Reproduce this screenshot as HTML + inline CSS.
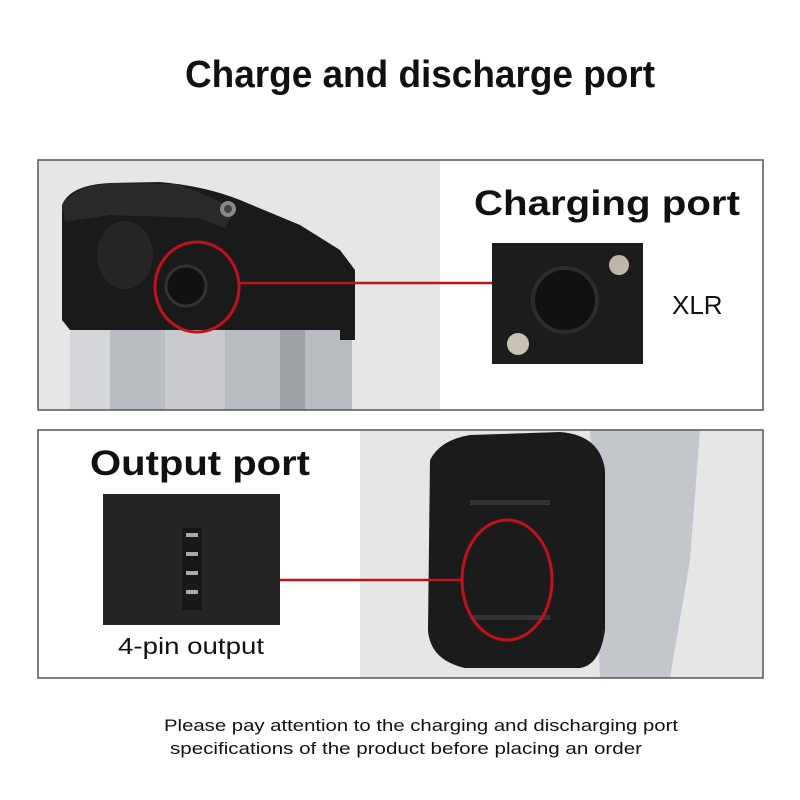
<!DOCTYPE html>
<html><head><style>
body{margin:0;width:800px;height:800px;background:#fff;overflow:hidden;font-family:"Liberation Sans",sans-serif}
svg{display:block}
</style></head><body>
<svg width="800" height="800" viewBox="0 0 800 800" xmlns="http://www.w3.org/2000/svg">
<text x="420" y="87" text-anchor="middle" font-family="Liberation Sans" font-weight="bold" font-size="38" textLength="470" lengthAdjust="spacingAndGlyphs" fill="#111">Charge and discharge port</text>

<!-- top panel -->
<rect x="38" y="160" width="402" height="250" fill="#e6e6e6"/>
<rect x="70" y="315" width="282" height="95" fill="#b9bcc0"/>
<rect x="70" y="315" width="40" height="95" fill="#d4d6d9"/>
<rect x="165" y="315" width="60" height="95" fill="#c8cacd"/>
<rect x="280" y="315" width="25" height="95" fill="#9ea1a5"/>
<path d="M62 225 L62 205 Q70 185 110 183 L160 182 Q205 186 240 200 L300 225 L340 250 L355 270 L355 340 L340 340 L340 330 L70 330 L62 320 Z" fill="#1a1a1a"/>
<path d="M62 205 Q75 185 115 183 L175 184 Q210 195 235 210 L225 228 L200 218 L110 215 L65 222 Z" fill="#2a2a2a"/>
<ellipse cx="125" cy="255" rx="28" ry="34" fill="#262626"/>
<circle cx="228" cy="209" r="8" fill="#888"/>
<circle cx="228" cy="209" r="4" fill="#444"/>
<circle cx="186" cy="286" r="20" fill="#111" stroke="#333" stroke-width="3"/>
<ellipse cx="197" cy="287" rx="42" ry="45" fill="none" stroke="#c0121a" stroke-width="3"/>
<line x1="240" y1="283" x2="492" y2="283" stroke="#c0121a" stroke-width="2.5"/>
<rect x="492" y="243" width="151" height="121" fill="#1c1c1c"/>
<circle cx="565" cy="300" r="32" fill="#111" stroke="#2c2c2c" stroke-width="4"/>
<circle cx="619" cy="265" r="10" fill="#bdb7a8"/>
<circle cx="518" cy="344" r="11" fill="#c8c2b3"/>
<text x="474" y="215" font-weight="bold" font-size="35" fill="#111" textLength="266" lengthAdjust="spacingAndGlyphs">Charging port</text>
<text x="672" y="314" font-size="26" fill="#111">XLR</text>
<rect x="38" y="160" width="725" height="250" fill="none" stroke="#555" stroke-width="1.5"/>

<!-- bottom panel -->
<rect x="360" y="430" width="403" height="248" fill="#e6e6e6"/>
<path d="M590 430 L700 430 L690 560 L670 678 L600 678 Z" fill="#c3c6ca"/>
<path d="M430 460 Q440 440 470 435 L560 432 Q600 435 605 470 L605 630 Q600 665 580 668 L465 668 Q430 660 428 630 Z" fill="#1b1b1b"/>
<rect x="470" y="500" width="80" height="5" fill="#333"/>
<rect x="470" y="615" width="80" height="5" fill="#333"/>
<ellipse cx="507" cy="580" rx="45" ry="60" fill="none" stroke="#c0121a" stroke-width="3"/>
<line x1="280" y1="580" x2="462" y2="580" stroke="#c0121a" stroke-width="2.5"/>
<rect x="103" y="494" width="177" height="131" fill="#252525"/>
<rect x="182" y="528" width="20" height="82" fill="#181818"/>
<rect x="186" y="533" width="12" height="4" fill="#aaa"/>
<rect x="186" y="552" width="12" height="4" fill="#aaa"/>
<rect x="186" y="571" width="12" height="4" fill="#aaa"/>
<rect x="186" y="590" width="12" height="4" fill="#aaa"/>
<text x="90" y="475" font-weight="bold" font-size="35" fill="#111" textLength="220" lengthAdjust="spacingAndGlyphs">Output port</text>
<text x="118" y="654" font-size="23" fill="#111" textLength="146" lengthAdjust="spacingAndGlyphs">4-pin output</text>
<rect x="38" y="430" width="725" height="248" fill="none" stroke="#555" stroke-width="1.5"/>

<text x="421" y="731" text-anchor="middle" font-size="16.5" fill="#111" textLength="514" lengthAdjust="spacingAndGlyphs">Please pay attention to the charging and discharging port</text>
<text x="406" y="754" text-anchor="middle" font-size="16.5" fill="#111" textLength="472" lengthAdjust="spacingAndGlyphs">specifications of the product before placing an order</text>
</svg>
</body></html>
